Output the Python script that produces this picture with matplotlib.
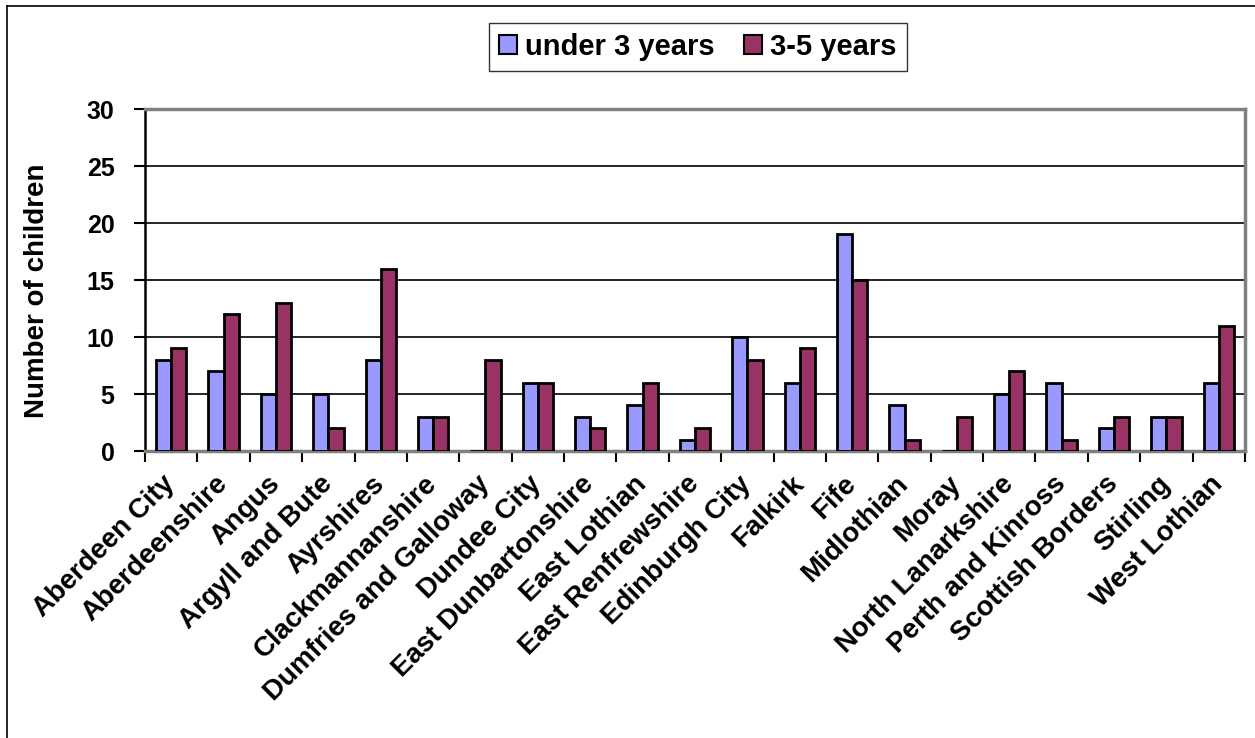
import numpy as np
import matplotlib.pyplot as plt

plt.rcParams['font.family'] = ['Liberation Sans', 'DejaVu Sans']
plt.rcParams['font.weight'] = 'bold'

areas = ['Aberdeen City', 'Aberdeenshire', 'Angus', 'Argyll and Bute', 'Ayrshires',
         'Clackmannanshire', 'Dumfries and Galloway', 'Dundee City', 'East Dunbartonshire',
         'East Lothian', 'East Renfrewshire', 'Edinburgh City', 'Falkirk', 'Fife',
         'Midlothian', 'Moray', 'North Lanarkshire', 'Perth and Kinross',
         'Scottish Borders', 'Stirling', 'West Lothian']
under3 = [8, 7, 5, 5, 8, 3, 0, 6, 3, 4, 1, 10, 6, 19, 4, 0, 5, 6, 2, 3, 6]
age3to5 = [9, 12, 13, 2, 16, 3, 8, 6, 2, 6, 2, 8, 9, 15, 1, 3, 7, 1, 3, 3, 11]

fig = plt.figure(figsize=(12.55, 7.38), dpi=100)
ax = fig.add_axes([145/1255, 1 - 451/738, 1100/1255, 342/738])

x = np.arange(len(areas))
w = 0.29
b1 = ax.bar(x - w/2, under3, w, color='#9999ff', edgecolor='black', linewidth=2, label='under 3 years', zorder=3)
b2 = ax.bar(x + w/2, age3to5, w, color='#993366', edgecolor='black', linewidth=2, label='3-5 years', zorder=3)

ax.set_xlim(-0.5, len(areas) - 0.5)
ax.set_ylim(0, 30)
ax.set_yticks(range(0, 31, 5))
ax.yaxis.grid(True, color='black', linewidth=1.2, zorder=0)
ax.set_axisbelow(True)

ax.set_xticks(x)
ax.set_xticklabels(areas, rotation=45, ha='right', va='center', rotation_mode='anchor',
                   fontsize=20, fontweight='bold')
ax.set_xticks(np.arange(-0.5, len(areas)), minor=True)
ax.tick_params(axis='x', which='major', length=0, pad=21)
ax.tick_params(axis='x', which='minor', length=8, width=1.5, color='black')
ax.tick_params(axis='y', length=8, width=1.5, labelsize=18, pad=14)
for lab in ax.get_yticklabels():
    lab.set_fontweight('bold')

ax.spines['left'].set_color('black')
ax.spines['left'].set_linewidth(1.8)
for s in ['top', 'right', 'bottom']:
    ax.spines[s].set_color('#808080')
    ax.spines[s].set_linewidth(2.5)

ax.set_ylabel('Number of children', fontsize=20, fontweight='bold')
ax.yaxis.set_label_coords(-0.086, 0.47)

leg = fig.legend(handles=[b1, b2], loc='center', bbox_to_anchor=(698/1255, 1 - 47/738),
                 ncol=2, frameon=True, fancybox=False, prop={'weight': 'bold', 'size': 21},
                 handlelength=0.6, handleheight=0.6, handletextpad=0.3, columnspacing=1.0,
                 borderpad=0.35)
leg.get_frame().set_edgecolor('black')
leg.get_frame().set_linewidth(1)
for h in leg.legend_handles:
    h.set_linewidth(1.5)

# outer chart frame (only left and top edges visible)
fig.add_artist(plt.Line2D([7/1255, 7/1255], [0, 1 - 6/738], color='black', linewidth=1.2, transform=fig.transFigure))
fig.add_artist(plt.Line2D([7/1255, 1], [1 - 6/738, 1 - 6/738], color='black', linewidth=1.2, transform=fig.transFigure))

fig.savefig('out.png', dpi=100)
